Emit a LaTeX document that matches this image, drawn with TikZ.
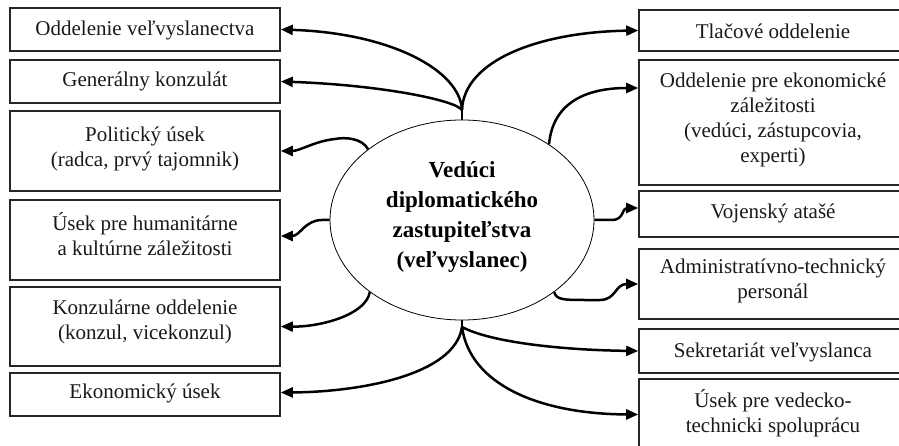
\documentclass[tikz,border=0pt]{standalone}
\usepackage{fontspec}
\setmainfont{Liberation Serif}
\usetikzlibrary{arrows.meta,shapes.geometric}
\begin{document}
\begin{tikzpicture}[x=1pt,y=-1pt,
  box/.style={draw=black!85, line width=1.6pt, rectangle, inner sep=0pt},
  lbox/.style={box, minimum width=270pt},
  rbox/.style={box, minimum width=268pt},
  txt/.style={font=\fontsize{21}{25}\selectfont, align=center, inner sep=0pt, text=black!90},
  conn/.style={line width=2.5pt, -{Triangle[length=12pt,width=10pt]}},
  stub/.style={line width=2.5pt},
]
\useasboundingbox (0,0) rectangle (899,446);
\clip (0,0) rectangle (899,446);
% left boxes
\node[lbox, minimum height=43pt] (L1) at (145,29.5) {};
\node[lbox, minimum height=43pt] (L2) at (145,81.5) {};
\node[lbox, minimum height=80pt] (L3) at (145,151) {};
\node[lbox, minimum height=80pt] (L4) at (145,240) {};
\node[lbox, minimum height=79pt] (L5) at (145,326.5) {};
\node[lbox, minimum height=43pt] (L6) at (145,394.5) {};
\node[txt] (tL1) at (145,30) {Oddelenie veľvyslanectva};
\node[txt] (tL2) at (145,81) {Generálny konzulát};
\node[txt] (tL3) at (145,149) {Politický úsek\\(radca, prvý tajomnik)};
\node[txt] (tL4) at (145,234) {Úsek pre humanitárne\\a kultúrne záležitosti};
\node[txt] (tL5) at (145,322) {Konzulárne oddelenie\\(konzul, vicekonzul)};
\node[txt] (tL6) at (145,393) {Ekonomický úsek};
% right boxes
\node[rbox, minimum height=41pt] (R1) at (773,30.5) {};
\node[rbox, minimum height=125pt] (R2) at (773,122.5) {};
\node[rbox, minimum height=46pt] (R3) at (773,214) {};
\node[rbox, minimum height=70pt] (R4) at (773,284) {};
\node[rbox, minimum height=44pt] (R5) at (773,351) {};
\node[rbox, minimum height=71pt] (R6) at (773,414.5) {};
\node[txt] (tR1) at (773,31) {Tlačové oddelenie};
\node[txt] (tR2) at (773,119.5) {Oddelenie pre ekonomické\\záležitosti\\(vedúci, zástupcovia,\\experti)};
\node[txt] (tR3) at (773,213) {Vojenský atašé};
\node[txt] (tR4) at (773,281) {Administratívno-technický\\personál};
\node[txt] (tR5) at (773,352) {Sekretariát veľvyslanca};
\node[txt] (tR6) at (773,413.5) {Úsek pre vedecko-\\technicki spoluprácu};
% central ellipse
\node[draw, ellipse, line width=0.8pt, minimum width=264pt, minimum height=200pt, inner sep=0pt] (E) at (462,220) {};
\node[align=center, inner sep=0pt, font=\bfseries\fontsize{23}{30}\selectfont] (tE) at (462,217)
  {Vedúci\\diplomatického\\zastupiteľstva\\(veľvyslanec)};
% fork points
\coordinate (T) at (462,110);
\coordinate (B) at (462,327);
\draw[stub] (E.north) -- (T);
\draw[stub] (E.south) -- (B);
% connectors
\draw[conn] (T) .. controls (460,70) and (390,33) .. (L1.east);
\draw[conn] (T) .. controls (455,100) and (380,85) .. (L2.east);
\draw[conn] (T) .. controls (464,60) and (540,32) .. (R1.west);
\draw[conn] (E.41) .. controls (553,100) and (590,88) .. ([yshift=34.5pt]R2.west);
\draw[conn] (E.143) .. controls (362,138) and (345,137) .. (335,139) .. controls (315,141) and (300,151) .. (L3.east);
\draw[conn] (E.west) -- (322,220) .. controls (305,220) and (300,236) .. ([yshift=4pt]L4.east);
\draw[conn] (E.east) -- (612,220) .. controls (624,220) and (622,208) .. ([yshift=6pt]R3.west);
\draw[conn] (E.-38) .. controls (556,300) and (565,300) .. (585,300) -- (600,300) .. controls (616,300) and (615,284) .. (R4.west);
\draw[conn] (E.218) .. controls (366,315) and (320,327) .. (L5.east);
\draw[conn] (B) .. controls (455,375) and (360,392) .. ([yshift=2pt]L6.east);
\draw[conn] (B) .. controls (490,342) and (560,350) .. (R5.west);
\draw[conn] (B) .. controls (470,385) and (540,414) .. (R6.west);
\end{tikzpicture}
\end{document}
